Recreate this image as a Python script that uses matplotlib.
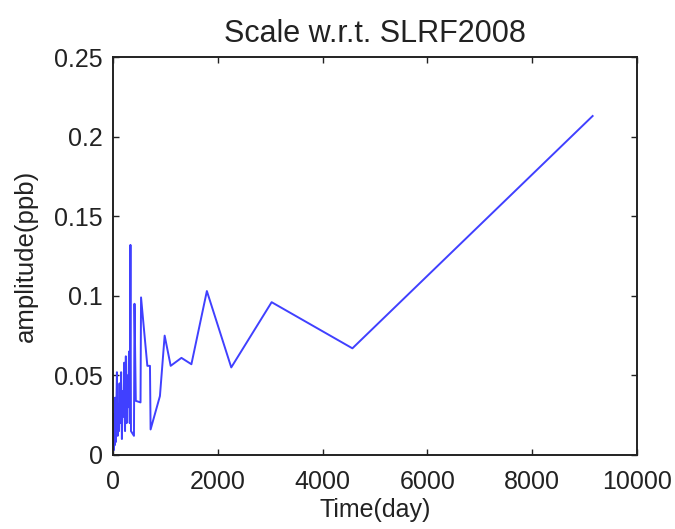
import matplotlib
matplotlib.use("Agg")
import matplotlib.pyplot as plt

plt.rcParams['font.family'] = ['Liberation Sans', 'DejaVu Sans']

# time (day) and amplitude (ppb)
days = [5, 12, 20, 28, 35, 45, 55, 65, 80, 95, 105, 120, 130, 145, 160, 175,
        190, 205, 220, 235, 250, 265, 280, 295, 310, 325, 338, 348,
        405, 415, 440, 530, 540, 660, 710, 722, 900, 990, 1105, 1310,
        1500, 1795, 2260, 3030, 4570, 9150]
amp = [0.002, 0.020, 0.003, 0.026, 0.006, 0.036, 0.008, 0.022, 0.052, 0.012,
       0.032, 0.015, 0.045, 0.020, 0.052, 0.010, 0.040, 0.024, 0.058, 0.015,
       0.062, 0.020, 0.050, 0.030, 0.065, 0.020, 0.132, 0.015,
       0.012, 0.095, 0.034, 0.033, 0.099, 0.056, 0.056, 0.016, 0.037, 0.075,
       0.056, 0.061, 0.057, 0.103, 0.055, 0.096, 0.067, 0.213]

xticks = [0, 2000, 4000, 6000, 8000, 10000]
yticks = [0, 0.05, 0.1, 0.15, 0.2, 0.25]
ytick_labels = ['0', '0.05', '0.1', '0.15', '0.2', '0.25']

fig = plt.figure(figsize=(6.75, 5.29), dpi=100)
ax = fig.add_axes([0.167, 0.140, 0.777, 0.752])

ax.plot(days, amp, color=(0.25, 0.25, 1.0), linewidth=1.4)

ax.set_xlim(0, 10000)
ax.set_ylim(0, 0.25)
ax.set_xticks(xticks)
ax.set_yticks(yticks)
ax.set_yticklabels(ytick_labels)
ax.tick_params(direction='in', length=4, width=1, labelsize=18, colors='#222222',
               top=True, right=True)
ax.tick_params(axis='x', pad=11)
ax.tick_params(axis='y', pad=7)
for s in ax.spines.values():
    s.set_linewidth(1.4)
    s.set_color('#222222')

ax.set_title('Scale w.r.t. SLRF2008', fontsize=22, color='#222222', pad=11)
ax.set_xlabel('Time(day)', fontsize=18, color='#222222', labelpad=3)
ax.set_ylabel('amplitude(ppb)', fontsize=18.5, color='#222222', labelpad=12)

fig.savefig('out.png', dpi=100)
